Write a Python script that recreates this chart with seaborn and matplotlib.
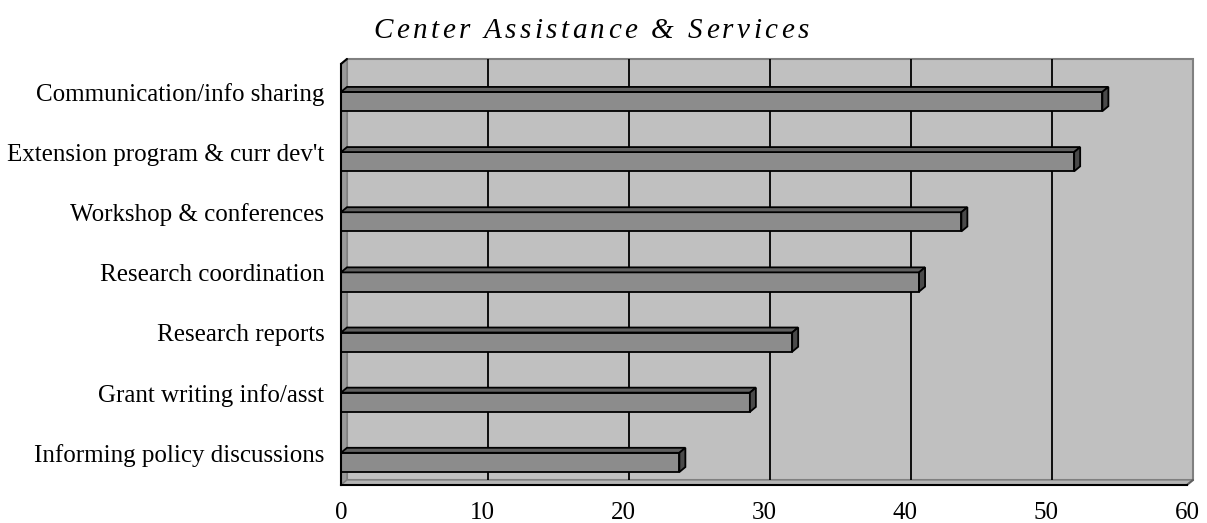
import numpy as np
import pandas as pd
import seaborn as sns
import matplotlib
matplotlib.use("Agg")
from matplotlib import pyplot as plt
from matplotlib.patches import Polygon, Rectangle
from matplotlib import transforms as mtransforms

categories = [
    "Communication/info sharing",
    "Extension program & curr dev't",
    "Workshop & conferences",
    "Research coordination",
    "Research reports",
    "Grant writing info/asst",
    "Informing policy discussions",
]
values = [54, 52, 44, 41, 32, 29, 24]
x_ticks = [0, 10, 20, 30, 40, 50, 60]
title = "Center Assistance & Services"

df = pd.DataFrame({"category": categories, "value": values})

sns.set_style("white")
plt.rcParams["font.family"] = ["Liberation Serif", "DejaVu Serif"]
plt.rcParams["text.color"] = "black"
plt.rcParams["xtick.color"] = "black"
plt.rcParams["ytick.color"] = "black"

fig = plt.figure(figsize=(12.07, 5.23), dpi=100)
ax = fig.add_axes([0.2825, 0.0727, 0.7009, 0.805])
ax.set_facecolor("none")

# depth of the fake 3-D look, in pixels
dx, dy = 6, 5

sns.barplot(
    data=df, x="value", y="category", orient="h", width=0.32,
    color="#8c8c8c", saturation=1, edgecolor="black", linewidth=1.3,
    ax=ax, zorder=3,
)
bars = list(ax.patches)

ax.set_xlim(0, 60)
ax.set_ylim(6.375, -0.625)
ax.set_xlabel("")
ax.set_ylabel("")

bw, bh = ax.bbox.width, ax.bbox.height
fx, fy = dx / bw, dy / bh
ddx = dx * 60 / bw
ddy = dy * 7 / bh
off = mtransforms.ScaledTranslation(dx / 100, dy / 100, fig.dpi_scale_trans)

# back wall
ax.add_patch(Rectangle((0, 0), 1, 1, transform=ax.transAxes + off,
                       fc="#c0c0c0", ec="#808080", lw=1.5, clip_on=False, zorder=0))
# left wall and floor
ax.add_patch(Polygon([(0, 0), (fx, fy), (fx, 1 + fy), (0, 1)], closed=True,
                     transform=ax.transAxes, fc="#9a9a9a", ec="#808080", lw=1,
                     clip_on=False, zorder=0.5))
ax.add_patch(Polygon([(0, 0), (1, 0), (1 + fx, fy), (fx, fy)], closed=True,
                     transform=ax.transAxes, fc="#b4b4b4", ec="#808080", lw=1,
                     clip_on=False, zorder=0.5))
ax.plot([0, fx], [1, 1 + fy], transform=ax.transAxes, color="black", lw=1.5,
        clip_on=False, zorder=4)
ax.plot([1, 1 + fx], [0, fy], transform=ax.transAxes, color="#606060", lw=1.5,
        clip_on=False, zorder=4)

# gridlines on the back wall
ax.vlines(x_ticks[1:-1], 0, 1, transform=ax.get_xaxis_transform() + off,
          colors="black", lw=1.3, zorder=1, clip_on=False)

# top and side faces of each bar
for p in bars:
    x0, y0, w, h = p.get_x(), p.get_y(), p.get_width(), p.get_height()
    if w <= 0:
        continue
    top = Polygon([(x0, y0), (x0 + ddx, y0 - ddy), (x0 + w + ddx, y0 - ddy), (x0 + w, y0)],
                  closed=True, fc="#606060", ec="black", lw=1.3, zorder=3, clip_on=False)
    side = Polygon([(x0 + w, y0), (x0 + w + ddx, y0 - ddy), (x0 + w + ddx, y0 + h - ddy), (x0 + w, y0 + h)],
                   closed=True, fc="#4a4a4a", ec="black", lw=1.3, zorder=3, clip_on=False)
    ax.add_patch(top)
    ax.add_patch(side)

# axes lines and ticks
for s in ["top", "right"]:
    ax.spines[s].set_visible(False)
for s in ["left", "bottom"]:
    ax.spines[s].set_color("black")
    ax.spines[s].set_linewidth(1.5)
    ax.spines[s].set_zorder(5)

ax.set_xticks(x_ticks)
ax.set_xticklabels([str(t) for t in x_ticks])
ax.tick_params(axis="x", direction="out", length=5, width=1.5, color="black",
               labelsize=18, pad=7)
ax.set_yticks(np.arange(-0.625, 6.4, 1.0), minor=True)
ax.tick_params(axis="y", which="minor", direction="out", length=6, width=1.5, color="black")
ax.tick_params(axis="y", which="major", length=0, labelsize=18, pad=12)
for lab in ax.get_yticklabels():
    lab.set_transform(lab.get_transform() + mtransforms.ScaledTranslation(0, 0.095, fig.dpi_scale_trans))

# letter-spaced italic title
renderer = fig.canvas.get_renderer()
title_kw = dict(fontsize=21, style="italic")
spacing = 3.4  # px between letters


def text_width(s):
    t = fig.text(0, 0, s, **title_kw)
    w = t.get_window_extent(renderer).width
    t.remove()
    return w


total = text_width(title) + spacing * (len(title) - 1)
x_start = 591 - total / 2
y_title = 523 - 31
W, H = fig.bbox.width, fig.bbox.height
for i, ch in enumerate(title):
    if ch == " ":
        continue
    xi = x_start + text_width(title[: i + 1]) - text_width(ch) + i * spacing
    fig.text(xi / W, y_title / H, ch, ha="left", va="center", **title_kw)

fig.savefig("out.png", dpi=100)
